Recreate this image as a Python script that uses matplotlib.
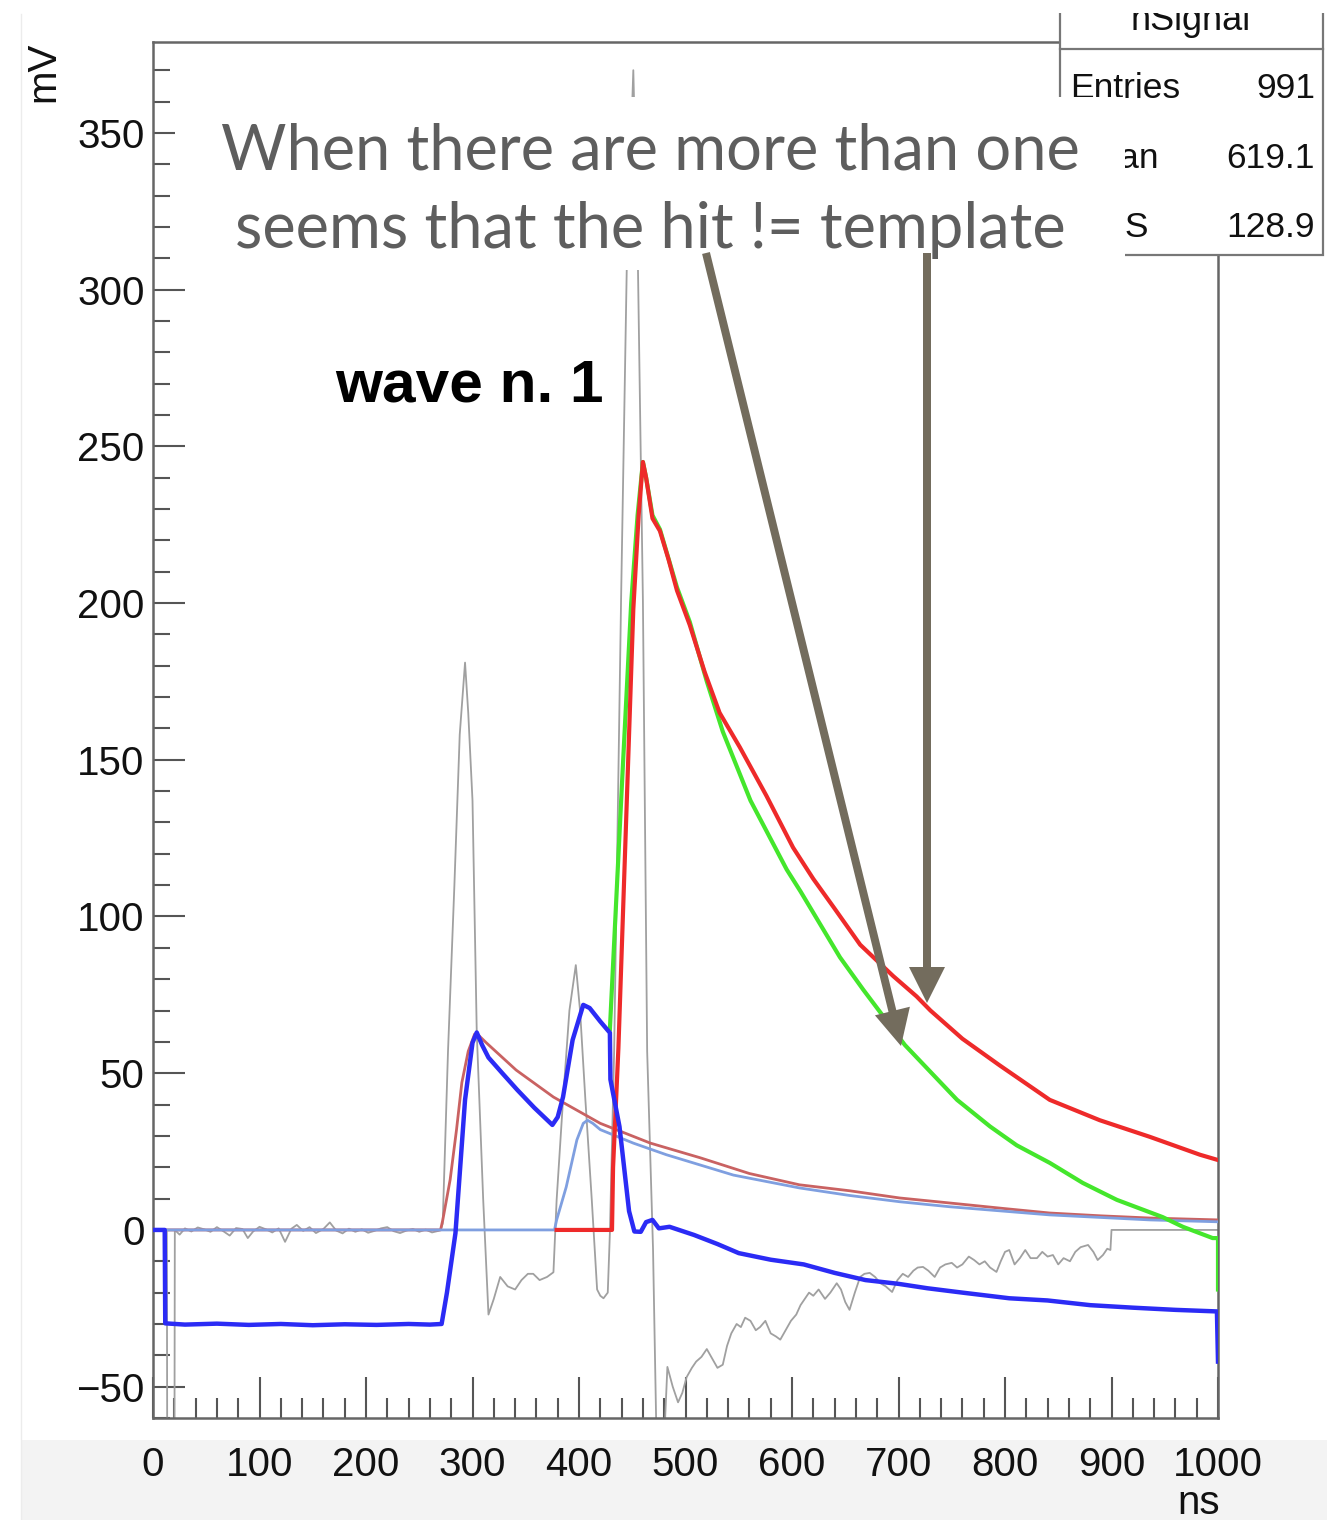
import math
import matplotlib
matplotlib.use("Agg")
import matplotlib.pyplot as plt
from matplotlib.patches import Rectangle, Polygon
from matplotlib.lines import Line2D
from matplotlib.ticker import MultipleLocator

# ---------------- data (ns, mV) ----------------
gray_t = [0, 13, 13.5, 20, 20.5,
          25, 30, 36, 42, 48, 54, 60, 66, 72, 78, 84, 89, 94, 100, 106, 112, 118, 124, 130, 135,
          141, 147, 153, 160, 166, 172, 178, 184, 190, 196, 202, 208, 214, 220, 226, 232, 238,
          244, 250, 256, 262, 268,
          270, 272, 277, 283, 288, 293, 296, 300, 304, 310, 315,
          320, 326, 333, 340, 346, 352, 357, 363, 370, 376,
          379, 385, 391, 397, 401, 406, 412, 417, 420, 423, 427, 429,
          433, 439.5, 444.8, 451, 455.4, 460, 464, 469.5, 474, 477,
          483, 488, 493, 497, 501, 506, 510, 515, 520, 525, 530, 535, 539, 543, 548, 552, 556,
          561, 566, 570, 575, 580, 585, 589, 594, 599, 604, 608, 612, 616, 620, 625, 631, 636,
          642, 646, 650, 654, 659, 664, 668, 673, 678, 683, 688, 694, 699, 704, 709, 714, 718,
          723, 728, 734, 739, 744, 750, 755, 760, 766, 771, 776, 781, 786, 792, 796, 800, 804,
          809, 814, 819, 824, 830, 835, 840, 845, 850, 855, 861, 866, 871, 878, 883, 887, 892,
          896, 899, 900, 1000]
gray_mv = [0, 0, -100, -100, 0,
           -1.5, 0.5, -0.5, 0.8, 0.2, -0.6, 0.9, -0.4, -1.8, 0.6, 0.3, -2.6, -0.5, 1.0, 0.2, -0.8,
           0.5, -3.8, 0.4, 1.6, -0.3, 0.9, -1.0, 0.3, 2.4, -0.2, -1.1, 0.4, -0.6, 0.2, -0.9, -0.3,
           0.5, 0.9, -0.4, -1.0, -0.2, 0.3, -0.6, 0.1, -0.8, -0.3,
           0, 2, 57, 110, 158, 181, 165, 137, 63, 10, -27,
           -22, -15, -18, -19, -16, -14, -14, -16, -15, -13.5,
           9.6, 41.5, 70, 84.5, 70, 41.5, 9.6, -19, -21, -21.8, -20, -1,
           57, 201, 306, 370, 306, 201, 57, -6, -90, -90,
           -43.7, -50, -55, -52, -47, -44, -42, -40.5, -38, -41, -44, -43, -37, -33, -30, -31,
           -28, -29, -32, -31, -29, -33, -34, -35, -32, -29, -27, -24, -22, -20, -21, -19, -22,
           -20, -17, -19, -23, -25.5, -20, -15, -14, -13.7, -15, -17, -18, -19.8, -16, -14, -15,
           -13, -12, -11.8, -13, -15, -12, -11, -10.5, -12, -11, -8.5, -9.6, -11, -10, -12,
           -13.4, -10, -7, -6.4, -11, -9, -6.4, -9, -9, -7, -8.5, -8, -11, -9, -10, -7, -5.5,
           -4.8, -7, -9.6, -8, -6, -6.4, 0, 0]

blue_t = [0, 11, 11.5, 30, 60, 90, 120, 150, 180, 210, 240, 260, 271, 276, 284, 293, 300, 304,
          309, 315, 328, 342, 358, 375, 380, 385, 394, 404, 410, 420, 429, 429.5, 438, 447, 452,
          458, 463, 469, 475, 485, 508, 530, 550, 580, 611, 640, 669, 700, 727, 760, 804, 840,
          880, 920, 960, 999, 1000]
blue_mv = [0, 0, -29.8, -30.2, -29.9, -30.3, -30.0, -30.4, -30.1, -30.3, -30.0, -30.2, -30, -20,
           -1, 41.5, 59.7, 63, 59, 55, 50, 44.7, 39, 33.5, 36, 42.4, 60.6, 71.8, 70.8, 66.5, 62.9,
           48, 33, 6, -0.5, -0.6, 2.5, 3.2, 0.5, 1, -1.6, -4.5, -7.4, -9.5, -11, -13.7, -16,
           -17.2, -18.6, -20, -21.8, -22.5, -24, -24.8, -25.5, -26, -42]

red_t = [379, 431, 432, 437, 444, 451, 456, 460, 463, 469, 476, 484, 492, 504, 518, 532, 551,
         576, 601, 620, 639, 664, 695, 717, 730, 760, 795, 842, 889, 936, 983, 1000]
red_mv = [0, 0, 20, 58, 128, 198, 228, 245, 240, 227, 223, 214, 204, 193, 178, 165, 154, 138.5,
          122, 112, 103, 91, 81, 74.5, 70, 61, 52.5, 41.5, 35, 29.7, 24, 22.3]

green_t = [429, 440, 449, 455, 460, 463, 469, 476, 492, 504, 520, 535, 561, 595, 608, 645, 667,
           706, 755, 786, 811, 842, 873, 905, 948, 967, 995, 1000, 1000]
green_mv = [64, 140, 200, 228, 245, 240, 228, 223.5, 205, 194, 175, 159, 137, 115, 108, 87,
            76.6, 59, 41.5, 33, 27, 21.4, 15, 9.6, 4.1, 1, -2.6, -2.6, -19]

tmpl1_t = [0, 270, 272, 279, 285, 290, 296, 302, 306, 313, 341, 376, 420, 467, 514, 560, 607,
           654, 701, 748, 800, 842, 890, 936, 1000]
tmpl1_mv = [0, 0, 3, 16, 32, 47, 57, 62.5, 62, 59.7, 51, 42.4, 34, 27.7, 23, 18, 14.4, 12.5,
            10.2, 8.6, 6.8, 5.4, 4.5, 3.8, 3.2]

tmpl2_t = [0, 377, 379, 388, 398, 404, 408, 413, 420, 451, 482, 545, 607, 654, 701, 748, 842,
           936, 1000]
tmpl2_mv = [0, 0, 3.2, 13.7, 28.7, 34, 35, 34, 32, 27.7, 24, 17.5, 13.4, 11, 9, 7.4, 4.8, 3.2,
            2.6]

stats_title = "hSignal"
stats_labels = ["Entries", "Mean", "RMS"]
stats_values = ["991", "619.1", "128.9"]

ann_lines = ["When there are more than one", "seems that the hit != template"]
wave_label = "wave n. 1"
x_title = "ns"
y_title = "mV"

for a, b in [(gray_t, gray_mv), (blue_t, blue_mv), (red_t, red_mv), (green_t, green_mv),
             (tmpl1_t, tmpl1_mv), (tmpl2_t, tmpl2_mv)]:
    assert len(a) == len(b), (len(a), len(b))

# ---------------- figure ----------------
W, H = 1327, 1520
fig = plt.figure(figsize=(W / 100, H / 100), dpi=100)
fig.patch.set_facecolor("white")


def fx(px):
    return px / W


def fy(py):
    return 1 - py / H


# slide background band at bottom
fig.add_artist(Rectangle((fx(21), fy(1520)), fx(1327) - fx(21), fy(1440) - fy(1520),
                         transform=fig.transFigure, facecolor="#f3f3f3", edgecolor="none",
                         zorder=-5))
fig.add_artist(Line2D([fx(21), fx(21)], [fy(14), fy(1520)], transform=fig.transFigure,
                      color="#ececec", lw=1, zorder=-4))

ax = fig.add_axes([fx(153), fy(1418), fx(1218) - fx(153), fy(42) - fy(1418)])
ax.set_xlim(0, 1000)
ax.set_ylim(-60, 379)
ax.patch.set_alpha(0)

ax.plot(gray_t, gray_mv, color="#a0a0a0", lw=1.3, zorder=2)
ax.plot(tmpl1_t, tmpl1_mv, color="#c96262", lw=2.0, zorder=3)
ax.plot(tmpl2_t, tmpl2_mv, color="#7f9fe0", lw=2.0, zorder=3)
ax.plot(green_t, green_mv, color="#44e62c", lw=3.0, zorder=4)
ax.plot(red_t, red_mv, color="#ee2a2a", lw=3.0, zorder=5)
ax.plot(blue_t, blue_mv, color="#2b2bf5", lw=3.2, zorder=6)

frame_col = "#666666"
for s in ax.spines.values():
    s.set_color(frame_col)
    s.set_linewidth(1.8)

ax.xaxis.set_major_locator(MultipleLocator(100))
ax.xaxis.set_minor_locator(MultipleLocator(20))
ax.yaxis.set_major_locator(MultipleLocator(50))
ax.yaxis.set_minor_locator(MultipleLocator(10))
ax.tick_params(axis="both", which="both", direction="in", colors="#555555", top=False,
               right=False, labelcolor="#111111")
ax.tick_params(axis="x", which="major", length=29.5, width=1.5, pad=20, labelsize=29)
ax.tick_params(axis="x", which="minor", length=14.5, width=1.5)
ax.tick_params(axis="y", which="major", length=23, width=1.5, pad=6, labelsize=29)
ax.tick_params(axis="y", which="minor", length=12, width=1.5)
for lab in ax.get_xticklabels() + ax.get_yticklabels():
    lab.set_family("Liberation Sans")

fig.text(fx(43), fy(42), y_title, rotation=90, ha="center", va="top", fontsize=29,
         family="Liberation Sans", color="#111111")
fig.text(fx(1220), fy(1514), x_title, ha="right", va="baseline", fontsize=29,
         family="Liberation Sans", color="#111111")

fig.text(fx(335), fy(402), wave_label, ha="left", va="baseline", fontsize=43.5,
         fontweight="bold", family="Liberation Sans", color="black", zorder=8)

# stats box
fig.add_artist(Rectangle((fx(1060), fy(255)), fx(1323) - fx(1060), fy(-10) - fy(255),
                         transform=fig.transFigure, facecolor="white", edgecolor="#777777",
                         lw=1.6, zorder=3))
fig.add_artist(Line2D([fx(1060), fx(1323)], [fy(49), fy(49)], transform=fig.transFigure,
                      color="#777777", lw=1.6, zorder=3.5))
fig.text(fx(1191), fy(30), stats_title, ha="center", va="baseline", fontsize=26,
         family="Liberation Sans", color="#111111", zorder=4)
for i, (lab, val) in enumerate(zip(stats_labels, stats_values)):
    yb = 98 + i * 69.5
    fig.text(fx(1070), fy(yb), lab, ha="left", va="baseline", fontsize=25.5,
             family="Liberation Sans", color="#111111", zorder=4)
    fig.text(fx(1315), fy(yb), val, ha="right", va="baseline", fontsize=25.5,
             family="Liberation Sans", color="#111111", zorder=4)
# crop at top of the slide
fig.add_artist(Rectangle((fx(1040), fy(13)), fx(1327) - fx(1040), fy(0) - fy(13),
                         transform=fig.transFigure, facecolor="white", edgecolor="none",
                         zorder=4.5))

# annotation box
fig.add_artist(Rectangle((fx(175), fy(270)), fx(1125) - fx(175), fy(97) - fy(270),
                         transform=fig.transFigure, facecolor="white", edgecolor="none",
                         zorder=5))
for i, line in enumerate(ann_lines):
    fig.text(fx(650), fy(169 + i * 79), line, ha="center", va="baseline", fontsize=45.5,
             family="Lato", color="#5e5e5e", zorder=6)

ARROW = "#736c5d"


def arrow(x0, y0, x1, y1, hl=36, hw=18, lw_px=8):
    dx, dy = x1 - x0, y1 - y0
    L = math.hypot(dx, dy)
    ux, uy = dx / L, dy / L
    bx, by = x1 - ux * hl, y1 - uy * hl
    nx, ny = -uy, ux
    fig.add_artist(Line2D([fx(x0), fx(bx + ux * 2)], [fy(y0), fy(by + uy * 2)],
                          transform=fig.transFigure, color=ARROW, lw=lw_px * 0.72,
                          solid_capstyle="butt", zorder=7))
    fig.add_artist(Polygon([[fx(x1), fy(y1)], [fx(bx + nx * hw), fy(by + ny * hw)],
                            [fx(bx - nx * hw), fy(by - ny * hw)]], closed=True,
                           transform=fig.transFigure, facecolor=ARROW, edgecolor="none",
                           zorder=7))


arrow(706, 253, 901, 1046)
arrow(927, 253, 927, 1003)

fig.savefig("out.png", dpi=100)
